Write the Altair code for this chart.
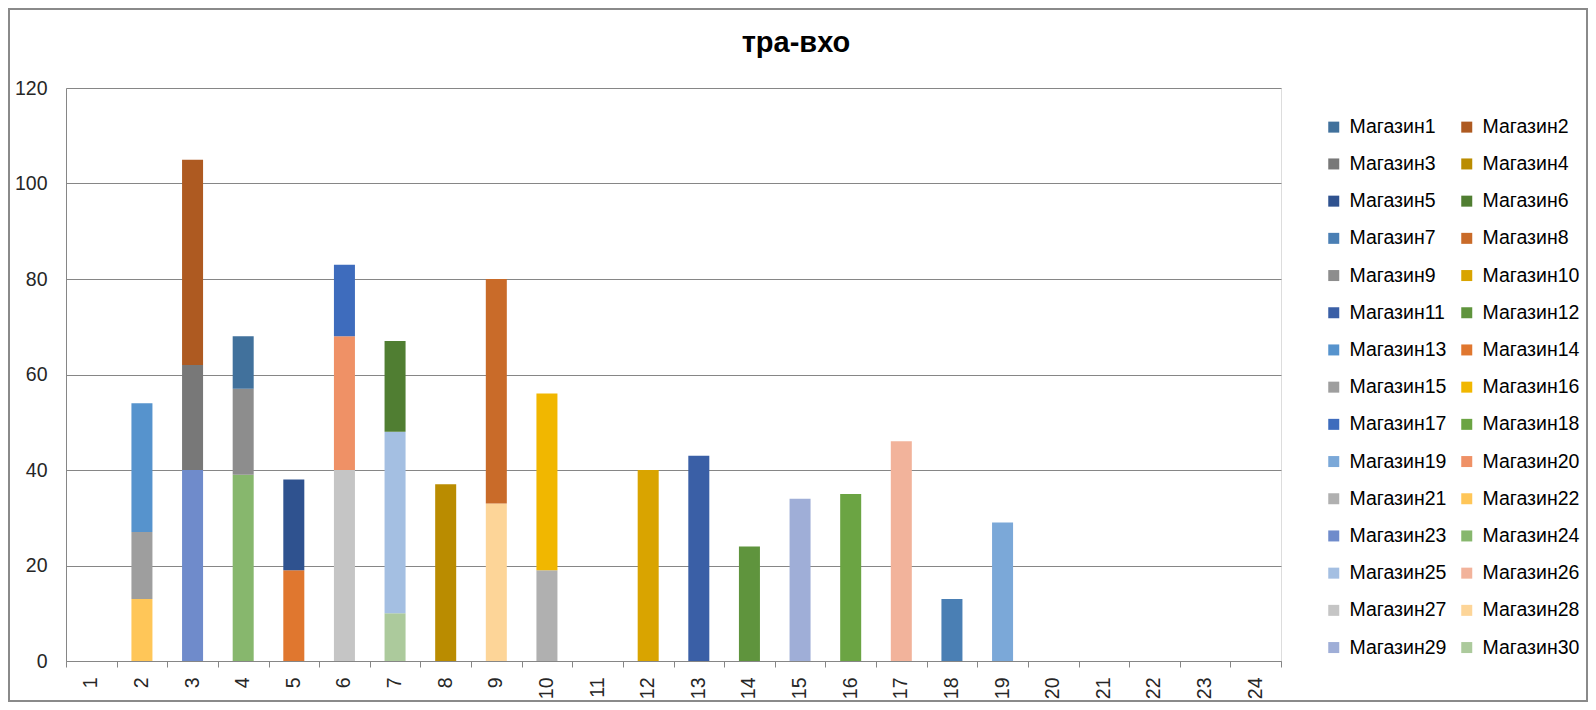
import altair as alt
import pandas as pd

# ---- data ----
hours = [str(i) for i in range(1, 25)]
store_names = ["Магазин%d" % i for i in range(1, 31)]
store_colors = [
    "#41719C", "#AE5A21", "#787878", "#BA8C00", "#2F528F", "#507E32",
    "#4A7FB4", "#C96B29", "#8D8D8D", "#D9A400", "#3A5FA6", "#5F943D",
    "#5693CD", "#E0772F", "#9E9E9E", "#F1B700", "#3E6CBD", "#6BA443",
    "#7BA8D8", "#EF9166", "#B0B0B0", "#FFC658", "#6F8BCB", "#87B76D",
    "#A4BFE2", "#F2B39B", "#C5C5C5", "#FDD598", "#9FAED7", "#ACCA9C",
]
seg_hour = ["2", "2", "2", "3", "3", "3", "4", "4", "4", "5", "5", "6", "6", "6",
            "7", "7", "7", "8", "9", "9", "10", "10", "12", "13", "14", "15",
            "16", "17", "18", "19"]
seg_store = [22, 15, 13, 23, 3, 2, 24, 9, 1, 14, 5, 27, 20, 17, 30, 25, 6, 4,
             28, 8, 21, 16, 10, 11, 12, 29, 18, 26, 7, 19]
seg_value = [13, 14, 27, 40, 22, 43, 39, 18, 11, 19, 19, 40, 28, 15, 10, 38, 19,
             37, 33, 47, 19, 37, 40, 43, 24, 34, 35, 46, 13, 29]
y_ticks = [0, 20, 40, 60, 80, 100, 120]
chart_title = "тра-вхо"

df = pd.DataFrame({
    "hour": seg_hour,
    "store": ["Магазин%d" % s for s in seg_store],
    "idx": seg_store,
    "value": seg_value,
})

# legend is filled column by column: order the domain so it reads row by row
leg_order = list(range(0, 30, 2)) + list(range(1, 30, 2))
leg_domain = [store_names[i] for i in leg_order]
leg_range = [store_colors[i] for i in leg_order]

FONT = "Liberation Sans"
GRID = "#868686"
W, H = 1215, 573
FS = 19.5

bars = alt.Chart(df).mark_bar(strokeWidth=0).encode(
    x=alt.X("hour:N", sort=hours,
            scale=alt.Scale(domain=hours, paddingInner=0.585, paddingOuter=0.2925),
            axis=alt.Axis(title=None, orient="bottom", labelAngle=270, ticks=False,
                          tickSize=0, labelPadding=16, labelFontSize=FS,
                          labelColor="#262626", labelFont=FONT, domain=True,
                          domainColor=GRID, grid=False)),
    y=alt.Y("value:Q", stack="zero",
            scale=alt.Scale(domain=[0, 120], nice=False),
            axis=alt.Axis(title=None, values=y_ticks, ticks=False, tickSize=0,
                          labelPadding=19, labelFontSize=FS, labelColor="#262626",
                          labelFont=FONT, grid=True, gridColor=GRID,
                          domainColor=GRID)),
    color=alt.Color("store:N",
                    scale=alt.Scale(domain=leg_domain, range=leg_range),
                    legend=alt.Legend(title=None, orient="none", legendX=1258,
                                      legendY=29, columns=2, columnPadding=10,
                                      rowPadding=16.2, symbolType="square",
                                      symbolSize=121, symbolStrokeWidth=0,
                                      labelFontSize=FS, labelFont=FONT,
                                      labelColor="#000000", labelOffset=6,
                                      padding=0, gridAlign="all")),
    order=alt.Order("idx:Q", sort="descending"),
)

ticks = alt.Chart(df).mark_point(opacity=0).encode(
    x=alt.X(datum=0, type="quantitative",
            scale=alt.Scale(domain=[0, 24], nice=False, zero=False),
            axis=alt.Axis(title=None, orient="bottom", values=list(range(25)),
                          labels=False, ticks=True, tickSize=6, tickColor=GRID,
                          domain=False, grid=False)),
    y=alt.Y(datum=0, type="quantitative"),
)

title = alt.Chart(pd.DataFrame({"t": [chart_title]})).mark_text(
    font=FONT, fontSize=29, fontWeight="bold", color="#000000",
    align="center", baseline="alphabetic",
).encode(text="t:N", x=alt.value(730), y=alt.value(-36))

frame = alt.Chart(df).mark_rect(fill=None, stroke="#8a8a8a", strokeWidth=2).encode(
    x=alt.value(-57), x2=alt.value(1521), y=alt.value(-79), y2=alt.value(613)
)

chart = alt.layer(bars, ticks, title, frame).resolve_scale(x="independent").properties(
    width=W, height=H,
    autosize=alt.AutoSizeParams(type="none"),
    padding={"left": 58, "top": 80, "right": 307, "bottom": 41},
).configure_view(stroke=None).configure(background="white")

chart.save("out.html", embed_options={"renderer": "svg", "actions": False})
